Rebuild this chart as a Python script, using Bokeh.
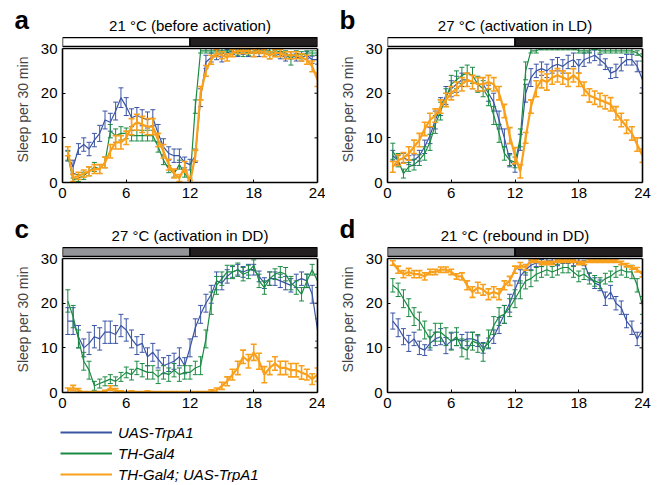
import numpy as np
from bokeh.plotting import figure
from bokeh.layouts import column, row
from bokeh.models import (Range1d, FixedTicker, LinearAxis, Span,
                          Legend, LegendItem, ColumnDataSource)
from bokeh.core.properties import value
from bokeh.embed import file_html
from bokeh.resources import INLINE

# ---------------- data ----------------
time_h = np.arange(1, 49) * 0.5          # 30-min bins, hours 0.5 .. 24
x_ticks = [0, 6, 12, 18, 24]
y_ticks = [0, 10, 20, 30]
series_names = ["UAS-TrpA1", "TH-Gal4", "TH-Gal4; UAS-TrpA1"]
panel_titles = ["21 \u00b0C (before activation)", "27 \u00b0C (activation in LD)",
                "27 \u00b0C (activation in DD)", "21 \u00b0C (rebound in DD)"]
panel_letters = ["a", "b", "c", "d"]

a_blue = [6, 3.5, 7.5, 8.5, 7.5, 9.5, 11, 14, 13.5, 16, 19, 17,
          14.5, 15, 14.5, 14, 14.5, 11, 8, 6.5, 6, 6, 4.5, 4,
          6, 19, 27, 28, 28.5, 28, 29, 29.5, 29, 29.5, 29, 29,
          29, 29, 28.5, 29, 28.5, 28, 28.5, 28, 28, 28.5, 27.5, 27.5]
a_green = [6, 0.5, 1, 1.5, 2.5, 3.5, 3, 4.5, 11.5, 10.5, 11, 11,
           10.5, 10.5, 10.5, 10.5, 10.5, 8, 5, 3, 2, 4, 2, 0.5,
           17, 29.5, 29.5, 29.5, 29.5, 29.5, 29.5, 29.5, 29, 29, 29, 29.5,
           29.5, 29.5, 29.5, 29, 29.5, 29, 27.5, 29, 28.5, 29, 29, 29]
a_orange = [7, 1, 1.5, 2, 2.5, 3, 3, 4.5, 7, 9, 9, 10,
            12.5, 13.5, 13, 12.5, 12.5, 9.5, 7, 4, 2, 1, 3.5, 0,
            6, 20, 25, 27.5, 29, 28.5, 28, 29, 29.5, 29.5, 29.5, 29,
            29.5, 29, 28.5, 29, 29, 28.5, 28.5, 28.5, 28, 27.5, 26, 23]
a_blue_err = [1.2, 1.5, 1.2, 1.5, 1.5, 1.5, 1.8, 2, 2, 2, 2.2, 2,
              2, 1.8, 1.8, 1.8, 1.8, 2, 1.8, 1.5, 1.5, 1.5, 1.2, 1.2,
              1.5, 2, 1.5, 1, 1, 1, 0.8, 0.8, 0.8, 0.8, 0.8, 0.8,
              0.8, 0.8, 0.8, 0.8, 0.8, 0.8, 0.8, 0.8, 0.8, 0.8, 0.8, 1]
a_green_err = [1, 0.5, 0.8, 0.8, 1, 1, 1, 1.2, 1.5, 1.5, 1.5, 1.2,
               1.2, 1.2, 1.2, 1.2, 1.2, 1.2, 1, 0.8, 0.8, 1, 0.8, 0.5,
               1.5, 0.5, 0.5, 0.5, 0.5, 0.5, 0.5, 0.5, 0.5, 0.8, 0.5, 0.5,
               0.5, 0.5, 0.5, 0.5, 0.5, 0.5, 1.2, 0.5, 0.8, 0.5, 0.5, 0.5]
a_orange_err = [1, 0.8, 0.8, 0.8, 1, 1, 1, 1.2, 1.5, 1.5, 1.5, 1.5,
                1.8, 1.8, 1.8, 1.8, 1.8, 1.5, 1.5, 1.2, 1, 0.8, 1.2, 0.5,
                1.2, 1.5, 1.2, 1, 0.8, 0.8, 0.8, 0.8, 0.6, 0.6, 0.6, 0.8,
                0.6, 0.8, 0.8, 0.8, 0.8, 0.8, 0.8, 0.8, 0.8, 1, 1.2, 1.5]

b_blue = [6, 5, 5.5, 5, 5, 6, 8, 10.5, 14, 17, 19.5, 21,
          22, 23, 23, 22.5, 22, 22, 20, 18, 14, 10, 5, 3.5,
          9, 20, 23.5, 25, 25.5, 25, 26, 26.5, 26, 27, 27.5, 26,
          27.5, 28, 28.5, 27.5, 26.5, 24.5, 25, 26.5, 27.5, 27.5, 26, 23]
b_green = [7, 5, 2, 3.5, 4, 5, 6.5, 9, 13, 16, 19, 22,
           23, 24, 24.5, 24, 22, 21, 19, 15, 11, 6.5, 5, 4.5,
           10, 25, 29.5, 29.5, 30, 30, 30, 30, 30, 30, 30, 29.5,
           29.5, 29.5, 30, 29.5, 29.5, 29.5, 29.5, 29.5, 29.5, 29.5, 29, 28]
b_orange = [3.5, 5, 5.5, 6.5, 8, 9.5, 12, 14, 15, 17, 18.5, 20,
            21, 22, 23, 22.5, 22, 22, 22.5, 22, 20, 16, 10.5, 6,
            2.5, 10, 17, 21, 23, 22.5, 23.5, 24, 23.5, 23, 24, 23,
            21, 19.5, 19, 18.5, 18, 17.5, 15.5, 14, 12.5, 11, 8.5, 6]
b_blue_err = [1.2, 1, 1, 1, 1.2, 1.2, 1.5, 1.8, 2, 2, 2, 1.8,
              1.8, 1.5, 1.5, 1.5, 1.5, 1.5, 1.8, 2, 2, 2, 1.5, 1.2,
              1.8, 2, 2, 1.5, 1.5, 1.5, 1.5, 1.5, 1.5, 1.5, 1.5, 1.5,
              1.5, 1.2, 1.2, 1.2, 1.2, 1.2, 1.5, 1.5, 1.2, 1.2, 1.2, 1.8]
b_green_err = [1.8, 1.5, 1, 1, 1.2, 1.2, 1.5, 1.8, 2, 2, 2, 2,
               2, 1.8, 1.8, 1.8, 1.8, 1.8, 1.8, 2, 2, 1.5, 1.2, 1.2,
               2, 2, 0.5, 0.5, 0.3, 0.3, 0.3, 0.3, 0.3, 0.3, 0.3, 0.5,
               0.5, 0.5, 0.3, 0.5, 0.5, 0.5, 0.5, 0.5, 0.5, 0.5, 0.5, 0.8]
b_orange_err = [1.2, 1.2, 1.2, 1.5, 1.5, 1.5, 1.5, 1.5, 1.5, 1.5, 1.5, 1.5,
                1.5, 1.5, 1.5, 1.5, 1.5, 1.5, 1.5, 1.5, 1.5, 1.5, 1.8, 1.8,
                1.5, 1.2, 1.5, 1.8, 1.8, 1.8, 1.5, 1.5, 1.5, 1.5, 1.5, 1.5,
                1.5, 1.5, 1.5, 1.5, 1.5, 1.5, 1.5, 1.5, 1.5, 1.5, 1.5, 1.5]

c_blue = [16, 16, 12.5, 10, 11, 12.5, 12, 13.5, 13.5, 13, 15, 14,
          12, 10.5, 11, 8, 9, 7.5, 6, 6.5, 7, 8, 6, 10,
          14.5, 17.5, 20, 22, 25, 24.5, 26, 27, 27.5, 27, 27.5, 27.5,
          26, 24.5, 25.5, 25.5, 25, 24.5, 24, 25, 25.5, 25, 22, 14]
c_green = [20.5, 17, 12, 7, 5, 1.5, 2, 2.5, 3, 2.5, 3.5, 4.5,
           4, 5.5, 5, 4.5, 4.5, 3.5, 4.5, 4, 5, 4, 4.5, 4.5,
           5.5, 6, 12, 20, 24, 25.5, 27, 27, 27.5, 26.5, 27, 28.5,
           25, 23.5, 25.5, 26.5, 27, 26.5, 24.5, 23.5, 22, 25, 27.5, 25]
c_orange = [0.5, 1, 0.5, 0, 0, 0, 0, 0.2, 1, 0.5, 0.2, 0,
            0.2, 0, 0, 0.2, 0, 0, 0, 0, 0, 0, 0, 0,
            0, 0, 0, 0.3, 0.5, 1.5, 2.5, 4, 5.5, 8, 7, 9,
            7, 4, 5.5, 6.5, 5.5, 5.5, 5, 5, 4.5, 4, 3, 4]
c_blue_err = [3, 3, 2.5, 2, 2.5, 2.5, 2.5, 2.5, 2.5, 2, 2.5, 2.5,
              2, 2, 2, 2, 2, 2, 1.8, 1.8, 1.8, 2, 1.8, 2,
              2, 2, 2, 2, 2, 1.5, 1.5, 1.2, 1.2, 1.2, 1.2, 1.2,
              1.2, 1.2, 1.5, 1.5, 1.5, 1.5, 1.5, 1.5, 1.5, 1.5, 2, 2.5]
c_green_err = [2.5, 2.5, 2, 2, 2, 1, 1, 1, 1, 1, 1, 1.2,
               1.2, 1.5, 1.5, 1.5, 1.5, 1.5, 1.5, 1.5, 1.5, 1.5, 1.5, 1.5,
               1.5, 2, 2, 2.5, 2, 1.5, 1.5, 1.5, 1.5, 1.5, 1.5, 1.2,
               1.5, 1.5, 1.5, 1.2, 1.2, 1.5, 1.5, 1.5, 1.5, 1.5, 1.2, 1.5]
c_orange_err = [0.5, 0.6, 0.4, 0.2, 0.2, 0.2, 0.2, 0.3, 0.5, 0.4, 0.2, 0.2,
                0.2, 0.2, 0.2, 0.2, 0.2, 0.2, 0.2, 0.2, 0.2, 0.2, 0.2, 0.2,
                0.2, 0.2, 0.2, 0.3, 0.5, 0.8, 1, 1.2, 1.5, 1.5, 1.5, 1.8,
                1.8, 1.8, 1.5, 1.5, 1.5, 1.5, 1.5, 1.5, 1.5, 1.2, 1.2, 1.5]

d_blue = [16, 14.5, 12.5, 11, 12, 10, 9.5, 11, 12, 12.5, 10.5, 11.5,
          12, 11.5, 12, 12, 11.5, 10, 11, 12.5, 15, 17.5, 20, 23,
          26, 27.5, 28.5, 29, 29, 29.5, 29.5, 29, 29.5, 29.5, 29, 29.5,
          29, 26, 24.5, 24, 21, 22.5, 20, 19, 16, 14.5, 12, 14]
d_green = [24, 23, 21, 19, 17, 16, 14, 12, 13.5, 13.5, 12.5, 11.5,
           12.5, 10, 9.5, 11.5, 11, 9, 12, 15, 17, 17.5, 19, 21,
           23, 25, 25.5, 26.5, 27, 27.5, 27, 27.5, 28, 28, 27, 26,
           26.5, 25.5, 25, 24.5, 25.5, 26, 27, 27.5, 27, 27, 24, 19.5]
d_orange = [29, 27.5, 26.5, 27, 26.5, 26.5, 26, 27, 27, 27.5, 27.5, 27,
            26, 26, 24, 22.5, 23.5, 23, 22, 22.5, 22, 24, 25, 27.5,
            28.5, 28, 29.5, 29.5, 29, 29, 29, 29.5, 29.5, 29.5, 29.5, 29,
            29, 29.5, 29.5, 29.5, 29.5, 29.5, 29.5, 29, 28.5, 28, 27.5, 26.5]
d_blue_err = [1.8, 2, 1.8, 1.8, 1.5, 1.5, 1.2, 1.5, 1.5, 1.8, 1.8, 1.8,
              1.5, 1.5, 1.5, 1.5, 1.2, 1.2, 1.2, 1.5, 1.8, 2, 2, 2,
              1.5, 1.2, 1, 0.8, 0.8, 0.6, 0.6, 0.6, 0.6, 0.6, 0.6, 0.6,
              0.6, 0.8, 1.2, 1.2, 1.5, 1.5, 1.5, 1.5, 1.5, 1.5, 1.5, 1.5]
d_green_err = [1.5, 1.5, 2, 2, 2, 2, 2, 2, 2, 2, 2, 2,
               2, 2, 2, 2, 2, 2, 2, 2, 2, 2, 2, 2,
               2, 1.8, 1.8, 1.5, 1.2, 1.2, 1.2, 1.2, 1.2, 1.2, 1.2, 1.2,
               1.2, 1.2, 1.2, 1.2, 1.2, 1.2, 1.2, 1.2, 1.2, 1.5, 1.5, 2]
d_orange_err = [0.5, 0.8, 0.8, 0.8, 0.8, 0.8, 0.8, 0.6, 0.6, 0.6, 0.6, 0.6,
                0.6, 0.8, 1, 1.2, 1.2, 1.2, 1.2, 1.2, 1.2, 1, 1, 0.8,
                0.6, 0.6, 0.4, 0.4, 0.4, 0.4, 0.4, 0.4, 0.4, 0.4, 0.4, 0.4,
                0.4, 0.4, 0.4, 0.4, 0.4, 0.4, 0.4, 0.4, 0.4, 0.4, 0.5, 0.6]

# light regime bars: phase boundaries in hours
phase_bounds = [0, 12, 24]
bar_colors_LD = ["#ffffff", "#231f20"]
bar_colors_DD = ["#939598", "#231f20"]

# ---------------- style / layout ----------------
COLORS = ["#3a54a4", "#1b8a43", "#f8a01c"]
LINE_W = [1.2, 1.2, 2.2]
ERR_W = [1.0, 1.0, 1.6]
CAP = [5, 5, 6]
FONT = "Liberation Sans"
Y_TOP = 32.7
FRAME_W, FRAME_H = 255, 146
BORDER_L = 62
BORDER_R = [8, 14]
PANEL_W = [BORDER_L + FRAME_W + BORDER_R[0], BORDER_L + FRAME_W + BORDER_R[1]]
TOTAL_W = PANEL_W[0] + PANEL_W[1]


def make_header(height, letters, titles, letter_y, title_y):
    h = figure(frame_width=TOTAL_W, frame_height=height, min_border=0,
               x_range=Range1d(0, TOTAL_W), y_range=Range1d(0, height),
               output_backend="svg", toolbar_location=None,
               title_location=None, x_axis_type=None, y_axis_type=None)
    h.outline_line_color = None
    h.grid.visible = False
    left0 = [0, PANEL_W[0]]
    h.text(x=[l + 14 for l in left0], y=[letter_y] * 2, text=letters,
           text_font=value(FONT), text_font_size="26px",
           text_font_style="bold", text_color="black",
           text_align="left", text_baseline="middle")
    h.text(x=[l + BORDER_L + FRAME_W / 2 for l in left0], y=[title_y] * 2,
           text=titles, text_font=value(FONT), text_font_size="15px",
           text_color="black", text_align="center",
           text_baseline="middle")
    return h


def make_panel(series, errs, bar_colors, col, border_bottom):
    p = figure(frame_width=FRAME_W, frame_height=FRAME_H,
               min_border_left=BORDER_L, min_border_right=BORDER_R[col],
               min_border_top=0, min_border_bottom=border_bottom,
               x_range=Range1d(0, 24), y_range=Range1d(0, Y_TOP),
               output_backend="svg", toolbar_location=None,
               background_fill_color="white", border_fill_color="white")
    p.outline_line_color = None
    p.grid.visible = False

    for ax in [p.xaxis[0], p.yaxis[0]]:
        ax.major_label_text_font = FONT
        ax.major_label_text_font_size = "15px"
        ax.major_label_text_color = "black"
        ax.axis_line_color = "black"
        ax.axis_line_width = 1.6
        ax.major_tick_in = 3
        ax.major_tick_out = 0
        ax.major_tick_line_color = "black"
        ax.minor_tick_line_color = None
        ax.major_label_standoff = 5
    p.xaxis.ticker = FixedTicker(ticks=x_ticks)
    p.yaxis.ticker = FixedTicker(ticks=y_ticks)
    p.yaxis.bounds = (0, 30)
    p.yaxis.axis_label = "Sleep per 30 min"
    p.yaxis.axis_label_text_font = FONT
    p.yaxis.axis_label_text_font_size = "14px"
    p.yaxis.axis_label_text_font_style = "normal"
    p.yaxis.axis_label_standoff = 7

    # right edge of the box (line only, no labels)
    right = LinearAxis(ticker=FixedTicker(ticks=[]), bounds=(0, 30),
                       major_tick_line_color=None, minor_tick_line_color=None,
                       major_label_standoff=0,
                       axis_line_color="black", axis_line_width=1.6)
    p.add_layout(right, "right")
    # top edge of the box
    p.add_layout(Span(location=30, dimension="width", line_color="black",
                      line_width=1.2))
    # inward ticks on the right edge
    p.scatter(x=[24] * (len(y_ticks) - 2), y=y_ticks[1:-1], marker="dash",
              size=6, line_color="black", line_width=1)

    # light regime bar
    p.quad(left=phase_bounds[:-1], right=phase_bounds[1:],
           bottom=[30.45, 30.45], top=[32.45, 32.45],
           fill_color=bar_colors, line_color="black", line_width=1.4)

    for s, (vals, err) in enumerate(zip(series, errs)):
        v = np.array(vals, dtype=float)
        e = np.array(err, dtype=float)
        src = ColumnDataSource(dict(x=time_h, y=v,
                                    lo=np.maximum(v - e, 0),
                                    hi=np.minimum(v + e, 30)))
        p.segment(x0="x", y0="lo", x1="x", y1="hi", source=src,
                  line_color=COLORS[s], line_width=ERR_W[s])
        p.scatter(x="x", y="hi", source=src, marker="dash", size=CAP[s],
                  line_color=COLORS[s], line_width=ERR_W[s])
        p.scatter(x="x", y="lo", source=src, marker="dash", size=CAP[s],
                  line_color=COLORS[s], line_width=ERR_W[s])
        p.line(x="x", y="y", source=src, line_color=COLORS[s],
               line_width=LINE_W[s])
    return p


# header heights and text centre heights (pixels from header bottom)
head1 = make_header(36, panel_letters[:2], panel_titles[:2], 17, 11)
pa = make_panel([a_blue, a_green, a_orange],
                [a_blue_err, a_green_err, a_orange_err], bar_colors_LD, 0, 24)
pb = make_panel([b_blue, b_green, b_orange],
                [b_blue_err, b_green_err, b_orange_err], bar_colors_LD, 1, 24)
head2 = make_header(40, panel_letters[2:], panel_titles[2:], 18, 11)
pc = make_panel([c_blue, c_green, c_orange],
                [c_blue_err, c_green_err, c_orange_err], bar_colors_DD, 0, 22)
pd = make_panel([d_blue, d_green, d_orange],
                [d_blue_err, d_green_err, d_orange_err], bar_colors_DD, 1, 22)

# legend figure
LEG_H = 68
pl = figure(width=PANEL_W[0], height=LEG_H, min_border=0, x_range=Range1d(0, 1),
            y_range=Range1d(0, 1), output_backend="svg", toolbar_location=None,
            x_axis_type=None, y_axis_type=None)
pl.outline_line_color = None
pl.grid.visible = False
items = []
for s, name in enumerate(series_names):
    r = pl.line(x=[5, 6], y=[5, 6], line_color=COLORS[s], line_width=2)
    items.append(LegendItem(label=name, renderers=[r]))
leg = Legend(items=items, location=(60, LEG_H - 8 - 62), orientation="vertical",
             glyph_width=52, glyph_height=20, label_height=20, spacing=1,
             label_standoff=6, padding=0, margin=0,
             border_line_color=None, background_fill_alpha=0,
             label_text_font=FONT, label_text_font_size="15px",
             label_text_font_style="italic", label_text_color="black")
pl.add_layout(leg)

layout = column(head1, row(pa, pb, spacing=0), head2, row(pc, pd, spacing=0),
                pl, spacing=0)

with open("out.html", "w") as f:
    f.write(file_html(layout, INLINE))
